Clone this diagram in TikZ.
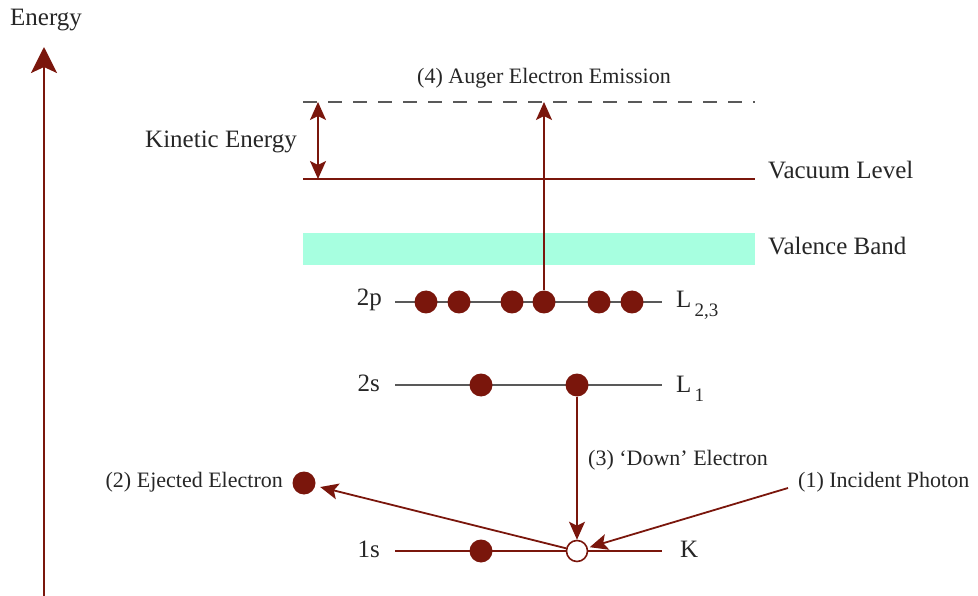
\documentclass[tikz,border=0pt]{standalone}
\usepackage{fontspec}
\setmainfont{Liberation Serif}
\usetikzlibrary{arrows.meta}
\definecolor{augred}{RGB}{122,22,12}
\definecolor{bandgreen}{RGB}{167,255,224}

\begin{document}
\begin{tikzpicture}[x=1pt,y=-1pt,
  elec/.style={circle,fill=augred,inner sep=0pt,minimum size=23pt},
  hole/.style={circle,draw=augred,fill=white,line width=1.6pt,inner sep=0pt,minimum size=21pt},
  lbl/.style={font=\fontsize{22}{26}\selectfont,text=black!85,inner sep=0pt},
  biglbl/.style={font=\fontsize{25}{30}\selectfont,text=black!85,inner sep=0pt},
  shell/.style={black!65,line width=1.8pt},
  tip/.style={-{Stealth[length=18pt,width=16pt,inset=4pt]}},
  trans/.style={tip,augred,line width=1.8pt}]
\useasboundingbox (0,0) rectangle (978,596);

% ---------------- energy axis ----------------
\coordinate (ax0) at (44,596);
\coordinate (ax1) at (44,47);
\draw[augred,line width=2.8pt,-{Stealth[length=26pt,width=26pt,inset=6pt]}] (ax0) -- (ax1);
\node[biglbl] (energy) at (46,20) {Energy};

% ---------------- vacuum level, band ----------------
\draw[black!65,line width=2.2pt,dash pattern=on 14pt off 11pt] (303,102) -- (755,102);
\draw[augred,line width=1.8pt] (303,179) -- (755,179);
\fill[bandgreen] (303,233) rectangle (755,265);
\node[biglbl,anchor=west] (vac) at (768,170) {Vacuum Level};
\node[biglbl,anchor=west] (band) at (768,246) {Valence Band};

% kinetic energy
\coordinate (ke0) at (318,102);
\coordinate (ke1) at (318,179);
\draw[augred,line width=1.8pt,{Stealth[length=18pt,width=16pt,inset=4pt]}-{Stealth[length=18pt,width=16pt,inset=4pt]}] (ke0) -- (ke1);
\node[biglbl,anchor=east] (kin) at (297,142) {Kinetic Energy};

% ---------------- shells ----------------
\draw[shell] (395,302) -- (662,302);
\draw[shell] (395,385) -- (662,385);
\draw[augred,line width=1.8pt] (395,551) -- (662,551);

\foreach \x [count=\i] in {426,459,512,544,599,632}
  \node[elec] (p\i) at (\x,302) {};
\node[elec] (s1) at (481,385) {};
\node[elec] (s2) at (577,385) {};
\node[elec] (k1) at (481,551) {};
\node[hole] (kh) at (577,551) {};
\node[elec] (ej) at (304,483) {};

\node[biglbl,anchor=east] (lab2p) at (382,300) {2p};
\node[biglbl,anchor=east] (lab2s) at (380,383) {2s};
\node[biglbl,anchor=east] (lab1s) at (380,549) {1s};
\node[biglbl,anchor=base west] (labL23) at (676,308) {L\raisebox{-9pt}{\fontsize{19}{22}\selectfont\,2,3}};
\node[biglbl,anchor=base west] (labL1) at (676,392) {L\raisebox{-9pt}{\fontsize{19}{22}\selectfont\,1}};
\node[biglbl,anchor=base west] (labK) at (680,557) {K};

% ---------------- transitions ----------------
\coordinate (out) at (544,102);
\draw[trans] (p4) -- (out);
\node[lbl] (auger) at (544,78) {(4) Auger Electron Emission};

\draw[trans] (s2) -- (kh);
\node[lbl,anchor=west] (down) at (588,460) {(3) ‘Down’ Electron};

\draw[trans,shorten >=5pt] (kh) -- (ej);
\node[lbl,anchor=east] (ejlab) at (283,482) {(2) Ejected Electron};

\node[lbl,anchor=west] (photon) at (798,482) {(1) Incident Photon};
\draw[trans,shorten >=2pt] ([xshift=-10pt,yshift=-6pt]photon.west) -- (kh);
\end{tikzpicture}
\end{document}
